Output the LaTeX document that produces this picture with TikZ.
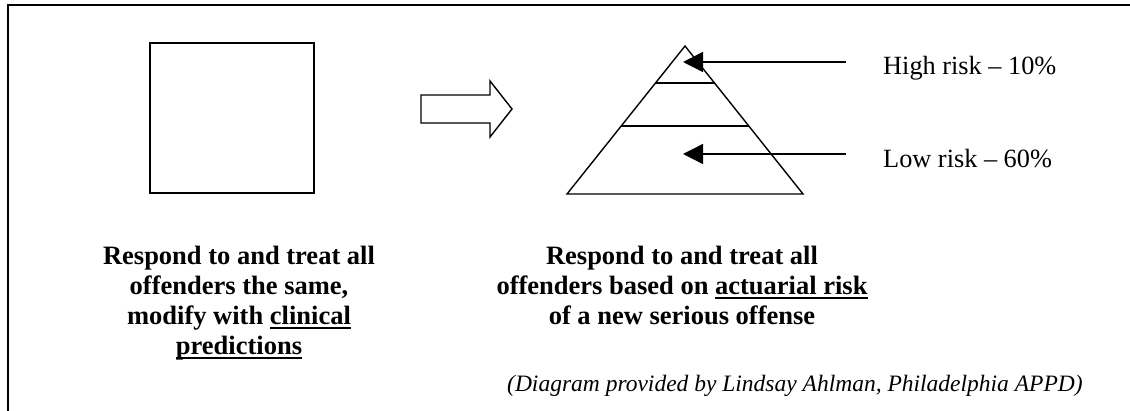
\documentclass[tikz,border=0pt]{standalone}
\usepackage{fontspec}
\setmainfont{Liberation Serif}
\usetikzlibrary{arrows.meta,calc}

% underline at a fixed depth below the baseline
\newcommand{\ulword}[1]{\setbox0=\hbox{#1}\rlap{\rule[-4.5pt]{\wd0}{2pt}}\box0}

\begin{document}
\begin{tikzpicture}[x=1pt, y=-1pt,
    shapeline/.style={line width=1.4pt},
    pointer/.style={line width=1.4pt, -{Triangle[length=20pt,width=20pt]}},
    boldtext/.style={align=center, inner sep=0pt, anchor=base,
        font=\fontsize{26.5}{30}\selectfont\bfseries},
    risktext/.style={anchor=base west, inner sep=0pt, font=\fontsize{26.3}{30}\selectfont}]
    \useasboundingbox (0,0) rectangle (1130,411);

    % Outer frame
    \draw[line width=2pt] (8,411) -- (8,5) -- (1130,5);

    % Everyone treated the same
    \node[draw, shapeline, minimum width=164pt, minimum height=150pt, inner sep=0pt] (samebox) at (232,118) {};

    % Block arrow
    \draw[shapeline] (421,95) -- (490,95) -- (490,81) -- (512,109) -- (490,137) -- (490,123) -- (421,123) -- cycle;

    % Risk pyramid
    \coordinate (apex) at (685,46);
    \coordinate (baseL) at (567,194);
    \coordinate (baseR) at (803,194);
    \draw[shapeline] (apex) -- (baseL) -- (baseR) -- cycle;
    \draw[shapeline] ($(apex)!0.25!(baseL)$) -- ($(apex)!0.25!(baseR)$);
    \draw[shapeline] ($(apex)!0.54!(baseL)$) -- ($(apex)!0.54!(baseR)$);

    % Risk labels and pointers
    \node[risktext] (hightxt) at (883,75) {High risk -- 10\%};
    \node[risktext] (lowtxt) at (883,168) {Low risk -- 60\%};
    \coordinate (hightail) at (846,62);
    \coordinate (hightip) at (683,62);
    \coordinate (lowtail) at (846,154);
    \coordinate (lowtip) at (683,154);
    \draw[pointer] (hightail) -- (hightip);
    \draw[pointer] (lowtail) -- (lowtip);

    % Captions (anchored at the baseline of their last line)
    \node[boldtext] (clinicaltxt) at (239,355) {Respond to and treat all\\offenders the same,\\modify with \ulword{clinical}\\\ulword{predictions}};
    \node[boldtext] (actuarialtxt) at (682,325) {Respond to and treat all\\offenders based on \ulword{actuarial risk}\\of a new serious offense};
    \node[anchor=base west, inner sep=0pt, font=\fontsize{23.5}{28}\selectfont\itshape] (credit) at (507,392) {(Diagram provided by Lindsay Ahlman, Philadelphia APPD)};
\end{tikzpicture}
\end{document}
